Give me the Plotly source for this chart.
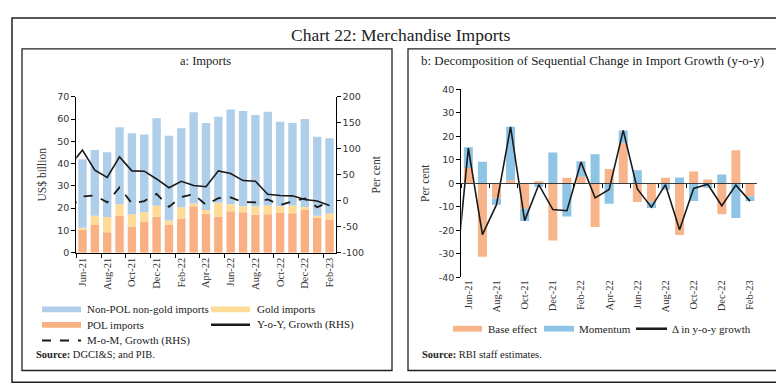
import plotly.graph_objects as go

# ---------------- data ----------------
months = ["Jun-21", "Jul-21", "Aug-21", "Sep-21", "Oct-21", "Nov-21", "Dec-21",
          "Jan-22", "Feb-22", "Mar-22", "Apr-22", "May-22", "Jun-22", "Jul-22",
          "Aug-22", "Sep-22", "Oct-22", "Nov-22", "Dec-22", "Jan-23", "Feb-23"]
# lines also carry May-21 (clipped at the left edge of the plot)
line_months = ["May-21"] + months

pol_imports = [10.3, 12.4, 9.2, 16.6, 11.8, 13.8, 16.1, 12.4, 15.3, 20.9, 17.5,
               16.1, 18.6, 18.2, 17.0, 17.3, 18.0, 17.7, 19.2, 15.9, 14.7]
gold_imports = [0.9, 4.2, 6.8, 5.1, 5.5, 4.4, 5.0, 2.1, 5.1, 1.2, 1.7,
                6.3, 3.1, 2.6, 3.7, 3.9, 2.9, 3.5, 1.3, 0.7, 2.9]
nonpol_nongold = [30.8, 29.5, 29.1, 34.6, 36.4, 34.9, 39.3, 38.0, 35.5, 41.0, 39.0,
                  38.7, 42.6, 42.8, 41.1, 42.1, 37.9, 37.0, 39.6, 35.5, 33.8]
yoy_growth = [68, 97.5, 58.8, 45, 84.4, 57.5, 56.9, 41.9, 25, 37.5, 29.4, 26.9,
              57.5, 52.5, 38.8, 37.5, 12.5, 10, 9.4, 2.5, -0.6, -9.4]
mom_growth = [-14, 8.1, 10, -3.1, 25.6, -5, -0.6, 13.1, -11.9, 6.9, 12.5, -8.1,
              5, 6.3, -2.5, -3.1, 2.5, -8.1, -1.3, 4.4, -12.5, -1.9]

base_effect = [6.5, -31.3, -6.5, 1.3, -10.9, 0.8, -24.4, 2.3, 2.8, -18.6, 6.1,
               17.0, -8.0, -7.9, 2.3, -22.0, 5.0, 1.6, -13.2, 14.1, -5.5]
momentum = [8.8, 9.2, -2.6, 22.8, -5.2, -1.5, 13.1, -14.1, 6.6, 12.3, -8.7,
            5.5, 5.5, -2.6, -2.8, 2.4, -7.6, -1.9, 3.7, -14.8, -2.1]
delta_yoy = [-47, 15.0, -21.9, -9.1, 24.0, -15.9, -0.6, -11.2, -11.7, 9.0, -6.2,
             -2.6, 22.5, -2.4, -10.2, -0.6, -19.8, -2.2, -0.4, -9.6, -0.8, -7.6]

left_ticks = [0, 10, 20, 30, 40, 50, 60, 70]
right_ticks = [-100, -50, 0, 50, 100, 150, 200]
b_ticks = [-40, -30, -20, -10, 0, 10, 20, 30, 40]

# ---------------- helpers ----------------
W, H = 784, 384
def X(px): return px / W
def Y(py): return 1 - py / H

def labels(vals):
    return [str(v) for v in vals]  # plain hyphen-minus like the reference

xb = list(range(len(months)))
xl = list(range(-1, len(months)))
tick_idx = xb[::2]
tick_txt = months[::2]
bounds = [i - 0.5 for i in xb[::2]]

C_BLUE_A = "rgb(174,206,234)"
C_GOLD = "rgb(254,220,152)"
C_POL = "rgb(249,177,131)"
C_ORANGE_B = "rgb(248,181,140)"
C_BLUE_B = "rgb(142,196,230)"
SERIF = "Liberation Serif"
SANS = "DejaVu Sans"
TXT = "#333333"

fig = go.Figure()

# ---- panel a bars ----
bw = 0.68
fig.add_bar(x=xb, y=pol_imports, name="POL imports", marker=dict(color=C_POL, line_width=0),
            width=bw, xaxis="x", yaxis="y")
fig.add_bar(x=xb, y=gold_imports, name="Gold imports", marker=dict(color=C_GOLD, line_width=0),
            width=bw, xaxis="x", yaxis="y")
fig.add_bar(x=xb, y=nonpol_nongold, name="Non-POL non-gold imports",
            marker=dict(color=C_BLUE_A, line_width=0), width=bw, xaxis="x", yaxis="y")
fig.add_scatter(x=xl, y=yoy_growth, mode="lines", name="Y-o-Y, Growth (RHS)",
                line=dict(color="#1a1a1a", width=1.6), xaxis="x", yaxis="y2")
fig.add_scatter(x=xl, y=mom_growth, mode="lines", name="M-o-M, Growth (RHS)",
                line=dict(color="#1a1a1a", width=1.8, dash="dash"), xaxis="x", yaxis="y2")

# ---- panel b bars ----
bw2 = 0.64
fig.add_bar(x=xb, y=base_effect, name="Base effect", marker=dict(color=C_ORANGE_B, line_width=0),
            width=bw2, xaxis="x2", yaxis="y3")
fig.add_bar(x=xb, y=momentum, name="Momentum", marker=dict(color=C_BLUE_B, line_width=0),
            width=bw2, xaxis="x2", yaxis="y3")
fig.add_scatter(x=xl, y=delta_yoy, mode="lines", name="Δ in y-o-y growth",
                line=dict(color="#1a1a1a", width=1.6), xaxis="x3", yaxis="y3")

ax_font = dict(family=SANS, size=9.5, color=TXT)
xt_font = dict(family=SERIF, size=10.5, color=TXT)

fig.update_layout(
    width=W, height=H, margin=dict(l=0, r=0, t=0, b=0),
    paper_bgcolor="white", plot_bgcolor="rgba(0,0,0,0)",
    barmode="relative", showlegend=False,
    xaxis=dict(domain=[X(68.3), X(327.7)], range=[-0.5, 20.5], anchor="y",
               tickmode="array", tickvals=tick_idx, ticktext=tick_txt, tickangle=-90,
               ticks="", tickfont=xt_font, showgrid=False, zeroline=False,
               showline=True, linecolor="black", linewidth=1,
               minor=dict(tickmode="array", tickvals=bounds, ticks="outside", ticklen=4,
                          tickcolor="black", tickwidth=1, showgrid=False)),
    yaxis=dict(domain=[Y(245.7), Y(85.3)], range=[0, 70], tickmode="array", tickvals=left_ticks,
               ticktext=labels(left_ticks),
               ticks="outside", ticklen=4, tickcolor="black", tickfont=ax_font,
               showgrid=False, zeroline=False, showline=True, linecolor="black", linewidth=1,
               title=dict(text="US$ billion", font=dict(family=SERIF, size=11.5, color=TXT), standoff=8)),
    yaxis2=dict(overlaying="y", side="right", anchor="x", range=[-100, 200], tickmode="array",
                tickvals=right_ticks, ticktext=labels(right_ticks),
                ticks="outside", ticklen=4, tickcolor="black",
                tickfont=ax_font, showgrid=False, zeroline=False, showline=True,
                linecolor="black", linewidth=1,
                title=dict(text="Per cent", font=dict(family=SERIF, size=11.5, color=TXT), standoff=8)),
    xaxis2=dict(domain=[X(453.3), X(749)], range=[-0.5, 20.5], anchor="y3",
                tickmode="array", tickvals=tick_idx, ticktext=tick_txt, tickangle=-90,
                ticks="", tickfont=xt_font, showgrid=False, zeroline=False, showline=False),
    xaxis3=dict(overlaying="x2", anchor="free", position=Y(174.3), range=[-0.5, 20.5],
                showticklabels=False, ticks="", showgrid=False, zeroline=False,
                showline=True, linecolor="#3a3a3a", linewidth=1.2,
                tickmode="array", tickvals=tick_idx,
                minor=dict(tickmode="array", tickvals=bounds, ticks="outside", ticklen=4,
                           tickcolor="black", tickwidth=1, showgrid=False)),
    yaxis3=dict(domain=[Y(271), Y(77.5)], range=[-40, 40], anchor="x2", tickmode="array",
                tickvals=b_ticks, ticktext=labels(b_ticks),
                ticks="outside", ticklen=4, tickcolor="black",
                tickfont=ax_font, showgrid=False, zeroline=False, showline=True,
                linecolor="black", linewidth=1,
                title=dict(text="Per cent", font=dict(family=SERIF, size=11.5, color=TXT), standoff=6)),
)

shapes = []
annos = []
# borders
shapes.append(dict(type="rect", xref="paper", yref="paper", x0=X(4), x1=X(779), y0=Y(379), y1=Y(4),
                   line=dict(color="#222", width=1.5)))
shapes.append(dict(type="rect", xref="paper", yref="paper", x0=X(14), x1=X(384), y0=Y(367), y1=Y(36),
                   line=dict(color="#222", width=1.3)))
shapes.append(dict(type="rect", xref="paper", yref="paper", x0=X(400), x1=X(769), y0=Y(367), y1=Y(36),
                   line=dict(color="#222", width=1.3)))

def text(px, py, s, size, anchor="left", family=SERIF, color="#222"):
    annos.append(dict(x=X(px), y=Y(py), xref="paper", yref="paper", text=s, showarrow=False,
                      xanchor=anchor, yanchor="middle", font=dict(family=family, size=size, color=color)))

text(392, 22, "Chart 22: Merchandise Imports", 17.5, "center")
text(198, 48, "a: Imports", 12.5, "center")
text(584, 48, "b: Decomposition of Sequential Change in Import Growth (y-o-y)", 13, "center")

def swatch_rect(x0, x1, yc, color):
    shapes.append(dict(type="rect", xref="paper", yref="paper", x0=X(x0), x1=X(x1),
                       y0=Y(yc + 3), y1=Y(yc - 3), fillcolor=color, line=dict(width=0)))

def swatch_line(x0, x1, yc, dash="solid", width=2.5):
    shapes.append(dict(type="line", xref="paper", yref="paper", x0=X(x0), x1=X(x1),
                       y0=Y(yc), y1=Y(yc), line=dict(color="#1a1a1a", width=width, dash=dash)))

# legend a
swatch_rect(34, 73, 304, C_BLUE_A); text(77, 304, "Non-POL non-gold imports", 11)
swatch_rect(203, 242, 304, C_GOLD); text(247, 304, "Gold imports", 11)
swatch_rect(34, 73, 320, C_POL); text(77, 320, "POL imports", 11)
swatch_line(203, 242, 320); text(247, 320, "Y-o-Y, Growth (RHS)", 11)
swatch_line(34, 73, 336, dash="dash", width=2); text(77, 336, "M-o-M, Growth (RHS)", 11)
text(26, 351, "<b>Source:</b> DGCI&S; and PIB.", 10.5)

# legend b
swatch_rect(445, 474, 324, C_ORANGE_B); text(478, 324, "Base effect", 11)
swatch_rect(536, 566, 324, C_BLUE_B); text(569, 324, "Momentum", 11)
swatch_line(628, 659, 324); text(662, 324, "Δ in y-o-y growth", 11)
text(412, 351, "<b>Source:</b> RBI staff estimates.", 10.5)

fig.update_layout(shapes=shapes, annotations=annos)
fig.write_html("out.html")
